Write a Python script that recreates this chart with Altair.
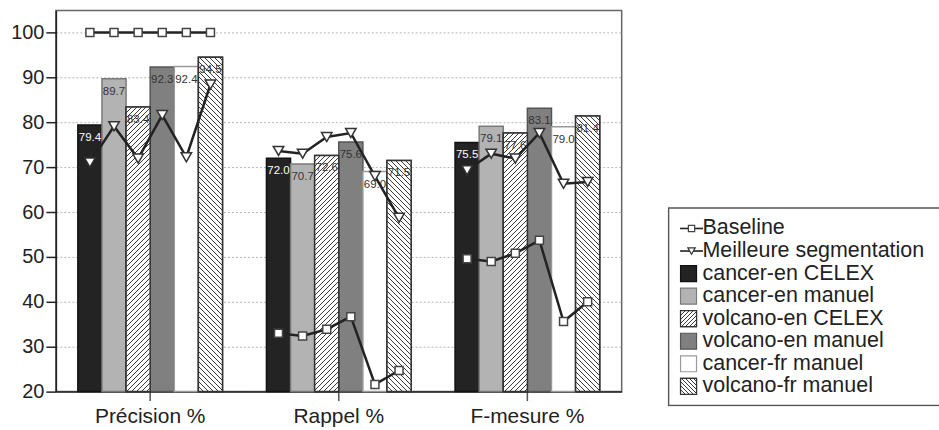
import altair as alt
import pandas as pd

# ---- data -----------------------------------------------------------------
metrics = ["Précision %", "Rappel %", "F-mesure %"]
series = ["cancer-en CELEX", "cancer-en manuel", "volcano-en CELEX",
          "volcano-en manuel", "cancer-fr manuel", "volcano-fr manuel"]

precision = [79.4, 89.7, 83.4, 92.3, 92.4, 94.5]
rappel = [72.0, 70.7, 72.6, 75.6, 69.0, 71.5]
f_mesure = [75.5, 79.1, 77.6, 83.1, 79.0, 81.4]

baseline_precision = [100.0, 100.0, 100.0, 100.0, 100.0, 100.0]
baseline_rappel = [33.0, 32.4, 33.9, 36.7, 21.6, 24.7]
baseline_f_mesure = [49.6, 49.0, 50.8, 53.7, 35.6, 40.0]

best_precision = [71.0, 79.1, 71.9, 81.6, 72.2, 88.4]
best_rappel = [73.6, 73.0, 76.7, 77.6, 68.0, 58.7]
best_f_mesure = [69.3, 73.0, 71.9, 77.6, 66.3, 66.7]

y_ticks = [20, 30, 40, 50, 60, 70, 80, 90, 100]
line_series = ["Baseline", "Meilleure segmentation"]

# ---- styling --------------------------------------------------------------
FONT = "Liberation Sans"
INK = "#222222"
fills = ["#232323", "#b3b3b3", "#ffffff", "#808080", "#ffffff", "#ffffff"]
strokes = ["#111111", "#7a7a7a", "#333333", "#555555", "#9a9a9a", "#333333"]
hatch_dir = {"volcano-en CELEX": "/", "volcano-fr manuel": "\\"}

PLOT_W, PLOT_H = 567, 382
Y_MIN, Y_MAX = 20, 104.9
PAD_IN, PAD_OUT = 0.233, 0.1165
STEP = PLOT_W / (len(metrics) - PAD_IN + 2 * PAD_OUT)
BAR_W = STEP * (1 - PAD_IN) / len(series)


def hatch(w, h, direction, period=5.0, ink=1.0, dark="#3a3a3a", light="#ffffff"):
    """Linear gradient with hard stops drawing 45-degree stripes on a w x h box."""
    span = w + h
    t = span / (w * w + h * h)
    if direction == "/":
        x1, y1, x2, y2 = 0, 0, t * w, t * h
    else:
        x1, y1, x2, y2 = 0, 1, t * w, 1 - t * h
    stops = []
    pos = 0.0
    while pos < span:
        a = round(pos / span, 5)
        b = round(min((pos + ink) / span, 1.0), 5)
        c = round(min((pos + period) / span, 1.0), 5)
        stops += [{"offset": a, "color": dark}, {"offset": b, "color": dark},
                  {"offset": b, "color": light}, {"offset": c, "color": light}]
        pos += period
    return {"gradient": "linear", "x1": x1, "y1": y1, "x2": x2, "y2": y2,
            "stops": stops}


# ---- tables ---------------------------------------------------------------
bar_values = dict(zip(metrics, [precision, rappel, f_mesure]))
base_values = dict(zip(metrics, [baseline_precision, baseline_rappel, baseline_f_mesure]))
best_values = dict(zip(metrics, [best_precision, best_rappel, best_f_mesure]))

bars = pd.DataFrame([
    {"metric": m, "series": s, "value": bar_values[m][i]}
    for m in metrics for i, s in enumerate(series)
])

lines = pd.DataFrame(
    [{"metric": m, "series": s, "kind": "Baseline", "value": base_values[m][i],
      "idx": i, "key": m + "|Baseline"}
     for m in metrics for i, s in enumerate(series)]
    + [{"metric": m, "series": s, "kind": "Meilleure segmentation",
        "value": best_values[m][i], "idx": i, "key": m + "|Best"}
       for m in metrics for i, s in enumerate(series)]
)

# ---- shared encodings -----------------------------------------------------
x_enc = alt.X(
    "metric:N", sort=metrics,
    scale=alt.Scale(paddingInner=PAD_IN, paddingOuter=PAD_OUT),
    axis=alt.Axis(title=None, labelAngle=0, labelFontSize=21, labelColor=INK,
                  labelPadding=5, tickSize=9, tickWidth=1.5, tickColor="#555555",
                  domainColor=INK, domainWidth=1.5, grid=False),
)
xo_enc = alt.XOffset("series:N", sort=series,
                     scale=alt.Scale(paddingInner=0, paddingOuter=0))
y_enc = alt.Y(
    "value:Q",
    scale=alt.Scale(domain=[Y_MIN, Y_MAX], nice=False, zero=False),
    axis=alt.Axis(title=None, values=y_ticks, grid=True, gridDash=[2, 2],
                  gridColor="#b5b5b5", gridWidth=1, tickSize=10, tickWidth=1.5,
                  tickColor=INK, domainColor=INK, domainWidth=1.5,
                  labelFontSize=20, labelColor=INK, labelPadding=2),
)

# bars rise from the bottom of the value axis
bar_base = alt.Chart(bars).encode(x=x_enc, xOffset=xo_enc, y=y_enc,
                                  y2=alt.Y2(datum=Y_MIN))

solid_bars = bar_base.mark_bar(strokeWidth=1.5).encode(
    fill=alt.Fill("series:N", scale=alt.Scale(domain=series, range=fills), legend=None),
    stroke=alt.Stroke("series:N", scale=alt.Scale(domain=series, range=strokes), legend=None),
)

hatched_bars = []
for m in metrics:
    for s, d in hatch_dir.items():
        v = bar_values[m][series.index(s)]
        h = (v - Y_MIN) / (Y_MAX - Y_MIN) * PLOT_H
        hatched_bars.append(
            bar_base.mark_bar(fill=hatch(BAR_W, h, d), stroke="#333333", strokeWidth=1.5)
            .transform_filter((alt.datum.metric == m) & (alt.datum.series == s))
        )

labels = alt.Chart(bars).mark_text(baseline="middle", dy=13, fontSize=11.5).encode(
    x=x_enc, xOffset=xo_enc, y=y_enc,
    text=alt.Text("value:Q", format=".1f"),
    color=alt.condition(alt.datum.series == series[0], alt.value("#ffffff"),
                        alt.value("#333333")),
)

line_base = alt.Chart(lines).encode(x=x_enc, xOffset=xo_enc, y=y_enc)
line_marks = line_base.mark_line(color=INK, strokeWidth=2.5).encode(
    detail="key:N", order="idx:Q")
squares = line_base.mark_point(shape="square", size=64, filled=True, fill="#ffffff",
                               stroke="#444444", strokeWidth=1.5, opacity=1
                               ).transform_filter(alt.datum.kind == "Baseline")
triangles = line_base.mark_point(shape="triangle-down", size=110, filled=True,
                                 fill="#ffffff", stroke="#333333", strokeWidth=1.5,
                                 opacity=1
                                 ).transform_filter(alt.datum.kind == "Meilleure segmentation")

main = alt.layer(solid_bars, *hatched_bars, labels, line_marks, squares, triangles
                 ).properties(width=PLOT_W, height=PLOT_H)

# ---- legend panel ---------------------------------------------------------
LEG_W, LEG_H = 272, 397
ROW_STEP, ROW0 = 22.6, 218.5
entries = line_series + series
legend_df = pd.DataFrame({"label": entries, "row": list(range(len(entries)))})
bar_entries = legend_df[legend_df["label"].isin(series)]

ly = alt.Y("row:Q", axis=None,
           scale=alt.Scale(domain=[(LEG_H - ROW0) / ROW_STEP, -ROW0 / ROW_STEP],
                           nice=False, zero=False))

box = alt.Chart(pd.DataFrame({"a": [0]})).mark_rect(
    fillOpacity=0, stroke="#555555", strokeWidth=1.5, clip=True
).encode(x=alt.value(1), x2=alt.value(LEG_W + 30), y=alt.value(198), y2=alt.value(396))

leg_lines = alt.Chart(legend_df[legend_df["label"].isin(line_series)]).mark_rule(
    color=INK, strokeWidth=1.6
).encode(x=alt.value(12.5), x2=alt.value(35.5), y=ly)

leg_square = alt.Chart(legend_df[legend_df["label"] == "Baseline"]).mark_point(
    shape="square", size=40, filled=True, fill="#ffffff", stroke="#444444",
    strokeWidth=1.2, opacity=1).encode(x=alt.value(24), y=ly)
leg_tri = alt.Chart(legend_df[legend_df["label"] == "Meilleure segmentation"]).mark_point(
    shape="triangle-down", size=55, filled=True, fill="#ffffff", stroke="#333333",
    strokeWidth=1.2, opacity=1).encode(x=alt.value(24), y=ly)

leg_swatches = alt.Chart(bar_entries).mark_square(size=256, strokeWidth=1.2, opacity=1).encode(
    x=alt.value(21), y=ly,
    fill=alt.Fill("label:N", scale=alt.Scale(domain=series, range=fills), legend=None),
    stroke=alt.Stroke("label:N", scale=alt.Scale(domain=series, range=strokes), legend=None),
)
leg_hatch = [
    alt.Chart(legend_df[legend_df["label"] == s]).mark_square(
        size=256, fill=hatch(16, 16, d, period=4.0, ink=1.0), stroke="#333333",
        strokeWidth=1.2, opacity=1).encode(x=alt.value(21), y=ly)
    for s, d in hatch_dir.items()
]

leg_text = alt.Chart(legend_df).mark_text(
    align="left", baseline="middle", fontSize=21.5, color=INK
).encode(x=alt.value(35), y=ly, text="label:N")

legend = alt.layer(box, leg_lines, leg_square, leg_tri, leg_swatches, *leg_hatch, leg_text
                   ).properties(width=LEG_W, height=LEG_H,
                                view=alt.ViewBackground(strokeOpacity=0))

chart = alt.hconcat(main, legend, spacing=45).properties(
    padding={"left": 9, "top": 9, "right": 0, "bottom": 0}
).resolve_scale(fill="independent", stroke="independent").configure(
    font=FONT
).configure_view(stroke="#666666", strokeWidth=1.5)

chart.save("out.html", embed_options={"renderer": "svg", "actions": False})
